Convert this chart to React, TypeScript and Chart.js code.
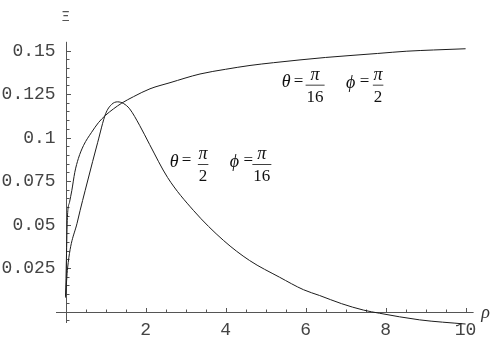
import { useEffect, useRef } from "react";
import { Chart, registerables } from "chart.js";

Chart.register(...registerables);

// Curve A: θ = π/16, φ = π/2
const rhoA = [0, 0.02, 0.045, 0.1, 0.155, 0.23, 0.32, 0.45, 0.65, 0.82, 0.99, 1.2, 1.4, 1.7, 2.11, 2.61, 3.36, 4.0, 4.61, 5.2, 5.86, 6.5, 7.11, 7.8, 8.53, 9.2, 10];
const xiA = [0.008, 0.03, 0.054, 0.063, 0.0695, 0.08, 0.088, 0.0955, 0.103, 0.1085, 0.1126, 0.1165, 0.1197, 0.1235, 0.128, 0.1315, 0.1365, 0.1392, 0.1414, 0.143, 0.1446, 0.146, 0.1471, 0.1483, 0.1496, 0.1503, 0.151];

// Curve B: θ = π/2, φ = π/16
const rhoB = [0, 0.05, 0.3, 0.55, 0.8, 1.0, 1.15, 1.3, 1.45, 1.6, 1.85, 2.1, 2.55, 3.2, 3.95, 4.6, 5.35, 5.95, 6.35, 6.9, 7.45, 7.85, 8.85, 10];
const xiB = [0.009, 0.025, 0.052, 0.075, 0.097, 0.1136, 0.119, 0.1205, 0.1195, 0.1165, 0.107, 0.096, 0.077, 0.058, 0.0408, 0.0293, 0.0197, 0.0125, 0.0092, 0.0045, 0.0008, -0.001, -0.0048, -0.0072];

const xTickValues = [2, 4, 6, 8, 10];
const xTickLabels = ["2", "4", "6", "8", "10"];
const yTickValues = [0.025, 0.05, 0.075, 0.1, 0.125, 0.15];
const yTickLabels = ["0.025", "0.05", "0.075", "0.1", "0.125", "0.15"];

const xLabel = "ρ";
const yLabel = "Ξ";

const annotationTexts = [
  { thetaDen: "16", phiDen: "2" },
  { thetaDen: "2", phiDen: "16" },
];
const annotationAnchors = [
  { rho: 5.3625, xi: 0.1332 },
  { rho: 2.5625, xi: 0.0876 },
];

const X_MIN = -0.24;
const X_MAX = 10.2;
const Y_MIN = -0.0066;
const Y_MAX = 0.155;

function drawCentered(ctx: CanvasRenderingContext2D, text: string, cx: number, cy: number) {
  const m = ctx.measureText(text);
  const asc = m.actualBoundingBoxAscent;
  const desc = m.actualBoundingBoxDescent;
  const base = cy + (asc - desc) / 2;
  ctx.textAlign = "center";
  ctx.textBaseline = "alphabetic";
  ctx.fillText(text, cx, base);
}

const axesPlugin = {
  id: "mmaAxes",
  beforeDatasetsDraw(chart: any) {
    const ctx: CanvasRenderingContext2D = chart.ctx;
    const xs = chart.scales.x;
    const ys = chart.scales.y;
    const ox = xs.getPixelForValue(0);
    const oy = ys.getPixelForValue(0);
    ctx.save();
    ctx.strokeStyle = "#555";
    ctx.lineWidth = 1;
    ctx.beginPath();
    ctx.moveTo(xs.left, Math.round(oy) + 0.5);
    ctx.lineTo(xs.right, Math.round(oy) + 0.5);
    ctx.moveTo(Math.round(ox) + 0.5, ys.top);
    ctx.lineTo(Math.round(ox) + 0.5, ys.bottom);
    ctx.stroke();

    ctx.beginPath();
    for (let i = 1; i <= 20; i++) {
      const v = i * 0.5;
      const px = Math.round(xs.getPixelForValue(v)) + 0.5;
      const major = i % 4 === 0;
      const len = major ? 4 : 2.5;
      ctx.moveTo(px, Math.round(oy));
      ctx.lineTo(px, Math.round(oy) - len);
    }
    for (let i = -1; i <= 30; i++) {
      if (i === 0) continue;
      const v = i * 0.005;
      const py = Math.round(ys.getPixelForValue(v)) + 0.5;
      const major = i % 5 === 0;
      const len = major ? 4 : 2.5;
      ctx.moveTo(Math.round(ox) + 1, py);
      ctx.lineTo(Math.round(ox) + 1 + len, py);
    }
    ctx.stroke();

    ctx.fillStyle = "#444";
    ctx.font = '18px "Liberation Mono", monospace';
    ctx.textBaseline = "middle";
    ctx.textAlign = "right";
    yTickValues.forEach((v, i) => {
      ctx.fillText(yTickLabels[i], ox - 10, ys.getPixelForValue(v) + 0.5);
    });
    ctx.textAlign = "center";
    xTickValues.forEach((v, i) => {
      ctx.fillText(xTickLabels[i], xs.getPixelForValue(v), oy + 19);
    });

    ctx.font = '14px "Liberation Mono", monospace';
    ctx.fillStyle = "#555";
    drawCentered(ctx, yLabel, ox, ys.top - 22);
    ctx.font = 'italic 18px "Liberation Serif", serif';
    ctx.fillStyle = "#333";
    drawCentered(ctx, xLabel, xs.right + 12, oy + 3.5);
    ctx.restore();
  },
  afterDatasetsDraw(chart: any) {
    const ctx: CanvasRenderingContext2D = chart.ctx;
    const xs = chart.scales.x;
    const ys = chart.scales.y;
    ctx.save();
    ctx.fillStyle = "#111";
    const ital = 'italic 18px "Liberation Serif", serif';
    const reg = '17px "Liberation Serif", serif';
    annotationTexts.forEach((a, i) => {
      const x0 = xs.getPixelForValue(annotationAnchors[i].rho);
      const y0 = ys.getPixelForValue(annotationAnchors[i].xi);
      const drawFrac = (cx: number, den: string) => {
        ctx.font = ital;
        drawCentered(ctx, "π", cx, y0 - 4.5);
        ctx.font = reg;
        const dw = ctx.measureText(den).width;
        drawCentered(ctx, den, cx, y0 + 16.5);
        const bw = dw + 2;
        ctx.fillRect(cx - bw / 2, y0 + 5, bw, 0.8);
        return bw / 2;
      };
      ctx.font = ital;
      drawCentered(ctx, "θ", x0 + 6, y0 + 1.2);
      ctx.font = reg;
      drawCentered(ctx, "=", x0 + 18.5, y0);
      const f1c = x0 + 35;
      const h1 = drawFrac(f1c, a.thetaDen);
      const phiC = f1c + h1 - 1 + 21 + 6;
      ctx.font = ital;
      drawCentered(ctx, "ϕ", phiC, y0 + 3.5);
      ctx.font = reg;
      drawCentered(ctx, "=", phiC + 14, y0);
      drawFrac(phiC + 27.5, a.phiDen);
    });
    ctx.restore();
  },
};

export default function App() {
  const ref = useRef<HTMLCanvasElement | null>(null);
  useEffect(() => {
    document.body.style.margin = "0";
    const canvas = ref.current;
    if (!canvas) return;
    const chart = new Chart(canvas, {
      type: "scatter",
      data: {
        datasets: [
          {
            label: "θ=π/16, φ=π/2",
            data: rhoA.map((r, i) => ({ x: r, y: xiA[i] })),
            showLine: true,
            borderColor: "#1c1c1c",
            borderWidth: 1,
            pointRadius: 0,
            cubicInterpolationMode: "monotone",
            clip: false as any,
          },
          {
            label: "θ=π/2, φ=π/16",
            data: rhoB.map((r, i) => ({ x: r, y: xiB[i] })),
            showLine: true,
            borderColor: "#1c1c1c",
            borderWidth: 1,
            pointRadius: 0,
            cubicInterpolationMode: "monotone",
            clip: false as any,
          },
        ],
      },
      options: {
        responsive: false,
        animation: false,
        events: [],
        layout: { padding: { left: 56, right: 25.4, top: 41.8, bottom: 26 } },
        plugins: { legend: { display: false }, tooltip: { enabled: false } },
        scales: {
          x: { type: "linear", min: X_MIN, max: X_MAX, display: false },
          y: { type: "linear", min: Y_MIN, max: Y_MAX, display: false },
        },
      },
      plugins: [axesPlugin],
    });
    return () => chart.destroy();
  }, []);
  return (
    <div style={{ position: "absolute", left: 0, top: 0, width: 499, height: 349, background: "#fff" }}>
      <canvas ref={ref} width={499} height={349} style={{ display: "block" }} />
    </div>
  );
}
